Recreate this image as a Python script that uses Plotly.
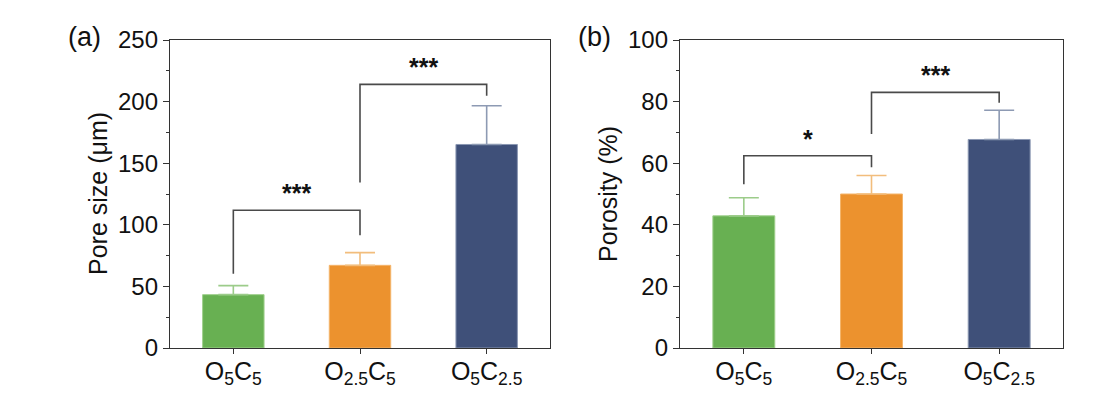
import plotly.graph_objects as go

categories = ["O<sub>5</sub>C<sub>5</sub>", "O<sub>2.5</sub>C<sub>5</sub>", "O<sub>5</sub>C<sub>2.5</sub>"]
pore_size = [43.3, 67.1, 165.2]
pore_err = [7.3, 10.3, 31.4]
porosity = [42.9, 50.0, 67.7]
porosity_err = [5.9, 6.0, 9.5]

bar_colors = ["#68b052", "#ec922e", "#3f5079"]
err_colors = ["#9ccc8a", "#f2bd7c", "#8d9ab3"]
edge_colors = ["#9fd08c", "#f4b46a", "#8a97b2"]

# significance brackets: (x indices, y values)
left_br1_x = [0, 0, 1, 1]
left_br1_y = [60.3, 111.8, 111.8, 91.5]
left_br2_x = [1, 1, 2, 2]
left_br2_y = [134.3, 214.0, 214.0, 204.7]
right_br1_x = [0, 0, 1, 1]
right_br1_y = [53.2, 62.4, 62.4, 58.7]
right_br2_x = [1, 1, 2, 2]
right_br2_y = [69.5, 83.0, 83.0, 79.6]

left_stars = [(0.5, 126.0, "***"), (1.5, 228.0, "***")]
right_stars = [(0.5, 68.0, "*"), (1.5, 88.5, "***")]

FONT = "Liberation Sans, Arial, sans-serif"
W, H, OFF = 1097, 398, 8


def px(xp):
    return (xp - OFF) / W


def py(yp):
    return 1 - (yp - OFF) / H


fig = go.Figure()

for axes, vals, errs in [(("x", "y"), pore_size, pore_err), (("x2", "y2"), porosity, porosity_err)]:
    for i in range(3):
        fig.add_trace(go.Bar(
            x=[i], y=[vals[i]], width=0.485,
            marker=dict(color=bar_colors[i], line=dict(color=edge_colors[i], width=1)),
            error_y=dict(type="data", array=[errs[i]], arrayminus=[0], symmetric=False,
                         color=err_colors[i], thickness=1.6, width=15),
            xaxis=axes[0], yaxis=axes[1], showlegend=False, hoverinfo="skip"))

for bx, by, xa, ya in [(left_br1_x, left_br1_y, "x", "y"), (left_br2_x, left_br2_y, "x", "y"),
                       (right_br1_x, right_br1_y, "x2", "y2"), (right_br2_x, right_br2_y, "x2", "y2")]:
    fig.add_trace(go.Scatter(x=bx, y=by, mode="lines", line=dict(color="#4a4a4a", width=1.6),
                             xaxis=xa, yaxis=ya, showlegend=False, hoverinfo="skip"))

annotations = []
for sx, sy, st in left_stars:
    annotations.append(dict(x=sx, y=sy, xref="x", yref="y", text="<b>" + st + "</b>", showarrow=False,
                            xanchor="center", yanchor="middle",
                            font=dict(family=FONT, size=25, color="#111")))
for sx, sy, st in right_stars:
    annotations.append(dict(x=sx, y=sy, xref="x2", yref="y2", text="<b>" + st + "</b>", showarrow=False,
                            xanchor="center", yanchor="middle",
                            font=dict(family=FONT, size=25, color="#111")))

annotations += [
    dict(x=px(98), y=py(194), xref="paper", yref="paper", text="Pore size (μm)", textangle=-90,
         xanchor="center", yanchor="middle",
         showarrow=False, font=dict(family=FONT, size=25, color="#111")),
    dict(x=px(608), y=py(194), xref="paper", yref="paper", text="Porosity (%)", textangle=-90,
         xanchor="center", yanchor="middle",
         showarrow=False, font=dict(family=FONT, size=25, color="#111")),
    dict(x=px(84), y=py(37), xref="paper", yref="paper", text="(a)",
         xanchor="center", yanchor="middle",
         showarrow=False, font=dict(family=FONT, size=27, color="#111")),
    dict(x=px(594), y=py(37), xref="paper", yref="paper", text="(b)",
         xanchor="center", yanchor="middle",
         showarrow=False, font=dict(family=FONT, size=27, color="#111")),
]

ydom = [py(348), py(40)]
axis_common = dict(showline=True, linecolor="#333", linewidth=1.3, mirror=True, showgrid=False,
                   zeroline=False, ticks="outside", tickcolor="#333", automargin=False)

fig.update_layout(
    width=W, height=H, margin=dict(l=0, r=0, t=0, b=0),
    paper_bgcolor="white", plot_bgcolor="white", barmode="overlay",
    font=dict(family=FONT, color="#111"),
    xaxis=dict(domain=[px(170), px(550)], range=[-0.5, 2.5], tickvals=[0, 1, 2], ticktext=categories,
               ticklen=5, ticklabelstandoff=-4, tickfont=dict(size=25), anchor="y", **axis_common),
    yaxis=dict(domain=ydom, range=[0, 250], dtick=50, ticklen=6, tickfont=dict(size=24), anchor="x",
               minor=dict(ticks="outside", ticklen=3, dtick=25, tickcolor="#333"), **axis_common),
    xaxis2=dict(domain=[px(680), px(1063)], range=[-0.5, 2.5], tickvals=[0, 1, 2], ticktext=categories,
                ticklen=5, ticklabelstandoff=-4, tickfont=dict(size=25), anchor="y2", **axis_common),
    yaxis2=dict(domain=ydom, range=[0, 100], dtick=20, ticklen=6, tickfont=dict(size=24), anchor="x2",
                minor=dict(ticks="outside", ticklen=3, dtick=10, tickcolor="#333"), **axis_common),
    annotations=annotations,
)

fig.write_html("out.html")
